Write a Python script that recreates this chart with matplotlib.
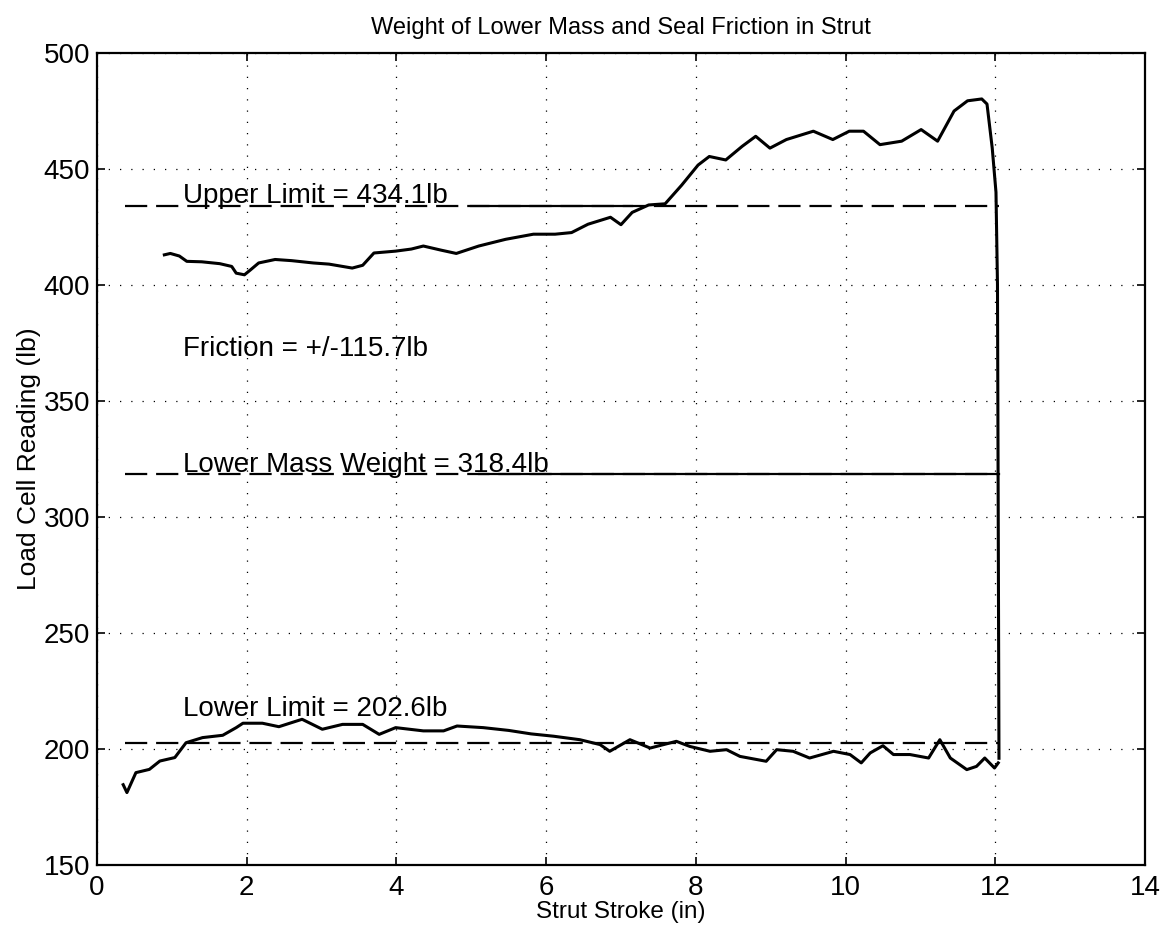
import numpy as np
import matplotlib
matplotlib.use('Agg')
from matplotlib import pyplot as plt

plt.rcParams['font.family'] = ['Liberation Sans', 'DejaVu Sans']

# Upper trace (extension stroke).
upper_x = [0.90, 0.98, 1.10, 1.20, 1.40, 1.64, 1.80, 1.86, 1.97, 2.05, 2.16, 2.38, 2.60,
           2.89, 3.10, 3.41, 3.55, 3.70, 3.99, 4.20, 4.36, 4.60, 4.80, 5.10, 5.46, 5.83,
           6.12, 6.34, 6.56, 6.86, 7.00, 7.15, 7.37, 7.59, 7.81, 8.03, 8.18, 8.40, 8.62,
           8.80, 8.99, 9.21, 9.57, 9.83, 10.05, 10.24, 10.46, 10.75, 11.01, 11.23, 11.45,
           11.63, 11.82, 11.89, 11.96, 12.01, 12.03, 12.04, 12.05]
upper_y = [413.0, 413.6, 412.5, 410.2, 410.0, 409.2, 408.0, 405.1, 404.4, 406.5, 409.5, 411.0,
           410.5, 409.5, 409.0, 407.3, 408.5, 413.8, 414.6, 415.5, 416.8, 415.0, 413.6, 416.8,
           419.7, 421.9, 421.9, 422.6, 426.2, 429.2, 426.0, 431.3, 434.5, 435.0, 443.0, 451.7,
           455.4, 453.9, 459.8, 464.1, 459.0, 462.7, 466.3, 462.7, 466.3, 466.3, 460.5, 462.0,
           467.0, 462.0, 475.0, 479.4, 480.2, 478.0, 459.0, 440.0, 400.0, 300.0, 196.0]

# Lower trace (compression stroke)
lower_x = [0.35, 0.40, 0.52, 0.70, 0.84, 1.04, 1.19, 1.41, 1.68, 1.86, 1.95, 2.21, 2.43,
           2.74, 3.01, 3.28, 3.55, 3.77, 3.99, 4.36, 4.63, 4.81, 5.16, 5.50, 5.80, 6.10,
           6.45, 6.72, 6.85, 7.12, 7.39, 7.74, 7.92, 8.19, 8.41, 8.59, 8.94, 9.08, 9.30,
           9.52, 9.84, 10.06, 10.21, 10.33, 10.50, 10.64, 10.86, 11.11, 11.26, 11.40, 11.62,
           11.75, 11.86, 11.99, 12.04]
lower_y = [184.6, 181.2, 189.8, 191.2, 194.8, 196.3, 202.7, 204.9, 205.9, 209.2, 211.1, 211.1,
           209.6, 212.8, 208.5, 210.6, 210.6, 206.3, 209.2, 207.8, 207.8, 209.9, 209.2, 208.0,
           206.5, 205.5, 204.0, 201.9, 199.0, 204.0, 200.4, 203.3, 201.1, 199.0, 199.7, 196.8,
           194.7, 199.7, 199.0, 196.1, 199.0, 197.6, 194.0, 198.3, 201.4, 197.6, 197.6, 196.1,
           204.0, 196.1, 191.1, 192.5, 196.1, 191.8, 194.0]

# Reference levels
levels = [434.1, 318.4, 202.6]
level_x = [0.37, 12.05]
# stretches where the printed dashed line came out solid
solid_parts = [(434.1, 5.0, 7.15), (318.4, 5.1, 12.05)]

labels = ['Upper Limit = 434.1lb', 'Friction = +/-115.7lb',
          'Lower Mass Weight = 318.4lb', 'Lower Limit = 202.6lb']
label_y = [435.5, 369.5, 319.5, 214.0]

fig = plt.figure(figsize=(11.67, 9.35), dpi=100)
ax = fig.add_axes([0.0831, 0.0749, 0.898, 0.8684])

ax.plot(upper_x, upper_y, color='black', lw=2.2)
ax.plot(lower_x, lower_y, color='black', lw=2.2)
for lv in levels:
    ax.plot(level_x, [lv, lv], color='black', lw=1.6, linestyle=(0, (10, 4)))
for lv, x0, x1 in solid_parts:
    ax.plot([x0, x1], [lv, lv], color='black', lw=1.6)

for txt, yy in zip(labels, label_y):
    ax.text(1.15, yy, txt, fontsize=20, va='baseline', ha='left')

ax.set_xlim(0, 14)
ax.set_ylim(150, 500)
ax.set_xticks(np.arange(0, 15, 2))
ax.set_yticks(np.arange(150, 501, 50))
ax.grid(True, color='black', linestyle=(0, (1, 8)), linewidth=0.9)
ax.tick_params(direction='in', length=6, width=1.2, labelsize=20, top=True, right=True)
ax.tick_params(axis='x', pad=7)
ax.tick_params(axis='y', pad=5)
for s in ax.spines.values():
    s.set_linewidth(1.6)

ax.set_title('Weight of Lower Mass and Seal Friction in Strut', fontsize=17, pad=14)
ax.set_xlabel('Strut Stroke (in)', fontsize=17.5, labelpad=0)
ax.set_ylabel('Load Cell Reading (lb)', fontsize=19, labelpad=2)

fig.savefig('out.png', dpi=100)
